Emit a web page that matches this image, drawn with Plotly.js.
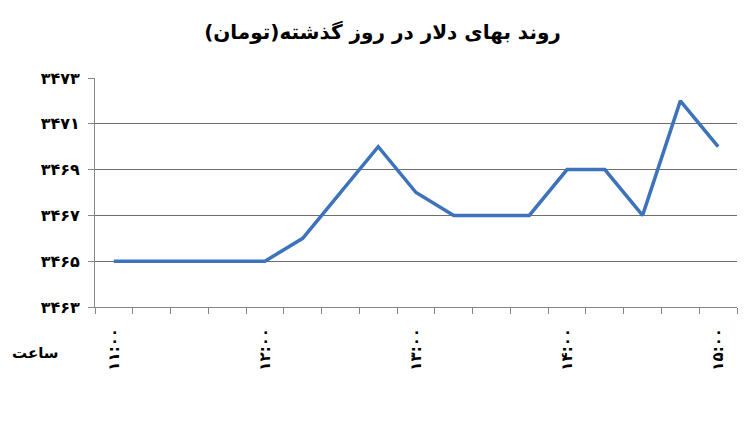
<!DOCTYPE html>
<html>
<head>
<meta charset="utf-8">
<script src="https://cdn.plot.ly/plotly-3.0.1.min.js"></script>
<style>
html,body{margin:0;padding:0;background:#fff;}
#chart{width:750px;height:423px;}
</style>
</head>
<body>
<div id="chart"></div>
<script>
const times = ["11:00","11:15","11:30","11:45","12:00","12:15","12:30","12:45","13:00","13:15","13:30","13:45","14:00","14:15","14:30","14:45","15:00"];
const prices = [3465,3465,3465,3465,3465,3466,3468,3470,3468,3467,3467,3467,3469,3469,3467,3472,3470];
const xTickIdx = [0,4,8,12,16];
const xTickText = ["۱۱:۰۰","۱۲:۰۰","۱۳:۰۰","۱۴:۰۰","۱۵:۰۰"];
const yTickVals = [3463,3465,3467,3469,3471,3473];
const yTickText = ["۳۴۶۳","۳۴۶۵","۳۴۶۷","۳۴۶۹","۳۴۷۱","۳۴۷۳"];
const titleText = "روند بهای دلار در روز گذشته(تومان)";
const xLabel = "ساعت";

const xs = times.map((t,i)=>i);
const font = "DejaVu Sans, sans-serif";

Plotly.newPlot("chart", [{
  x: xs, y: prices, type: "scatter", mode: "lines",
  line: {color: "#3d73ba", width: 3.5},
  hoverinfo: "skip"
}], {
  width: 750, height: 423,
  margin: {l: 95, r: 13, t: 78, b: 116},
  paper_bgcolor: "#fff", plot_bgcolor: "#fff",
  showlegend: false,
  title: {text: "<b>" + titleText + "</b>", x: 0.51, xanchor: "center", y: 0.925, yanchor: "middle",
          font: {family: font, size: 20, color: "#000"}},
  xaxis: {
    range: [-0.5, times.length - 0.5],
    tickvals: xTickIdx, ticktext: xTickText, tickangle: -90,
    ticks: "", showgrid: false, zeroline: false,
    showline: true, linecolor: "#868686", linewidth: 1,
    ticklabelstandoff: 14,
    tickfont: {family: font, size: 15, color: "#000", weight: "bold"},
    minor: {ticks: "outside", tick0: -0.5, dtick: 1, ticklen: 6, tickcolor: "#868686", showgrid: false}
  },
  yaxis: {
    range: [3463, 3473],
    tickvals: yTickVals, ticktext: yTickText,
    ticks: "outside", ticklen: 6, tickcolor: "#868686",
    showgrid: true, gridcolor: "#6e6e6e", gridwidth: 1,
    zeroline: false, showline: true, linecolor: "#868686", linewidth: 1,
    ticklabelstandoff: 5,
    tickfont: {family: font, size: 16, color: "#000", weight: "bold"}
  },
  annotations: [{
    text: "<b>" + xLabel + "</b>", xref: "paper", yref: "paper",
    x: -0.092, y: -0.2, xanchor: "center", yanchor: "middle", showarrow: false,
    font: {family: font, size: 15, color: "#000"}
  }]
}, {displayModeBar: false, staticPlot: true});
</script>
</body>
</html>
